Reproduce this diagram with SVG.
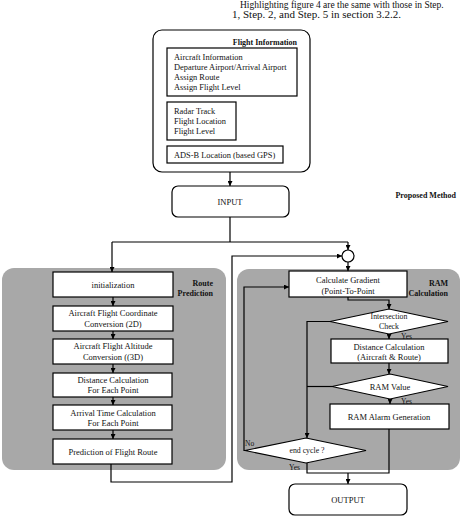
<svg xmlns="http://www.w3.org/2000/svg" width="474" height="530" viewBox="0 0 474 530">
<defs>
<marker id="ah" viewBox="0 0 10 10" refX="10" refY="5" markerWidth="5" markerHeight="5" orient="auto" markerUnits="userSpaceOnUse">
<path d="M0,0 L10,5 L0,10 z" fill="#000"/>
</marker>
<style>
text{font-family:"Liberation Serif","Times New Roman",serif;fill:#111;}
.t{font-size:8.5px;text-anchor:middle;}
.l{font-size:8.4px;}
.b{font-size:8px;font-weight:bold;text-anchor:end;}
.box{fill:#fff;stroke:#000;stroke-width:1.2;}
.panel{fill:#a8a8a8;stroke:none;}
.c{fill:none;stroke:#000;stroke-width:1.2;}
.ca{fill:none;stroke:#000;stroke-width:1.2;marker-end:url(#ah);}
.s{font-size:7.5px;}
.d{font-size:7.8px;text-anchor:middle;}
</style>
</defs>
<rect width="474" height="530" fill="#fff"/>
<text x="240" y="7.5" style="font-size:9.5px">Highlighting figure 4 are the same with those in Step.</text>
<text x="232" y="18" style="font-size:11px">1, Step. 2, and Step. 5 in section 3.2.2.</text>

<rect class="panel" x="2" y="268" width="224" height="202" rx="12"/>
<rect class="panel" x="237" y="269" width="223" height="201" rx="12"/>

<g id="flight-info">
<rect class="box" x="153" y="30" width="157" height="142" rx="9"/>
<text class="b" x="297" y="45">Flight Information</text>
<rect class="box" x="167" y="48" width="130" height="48"/>
<text class="l" x="174" y="60">Aircraft Information</text>
<text class="l" x="174" y="70">Departure Airport/Arrival Airport</text>
<text class="l" x="174" y="80">Assign Route</text>
<text class="l" x="174" y="90">Assign Flight Level</text>
<rect class="box" x="167" y="102" width="69" height="38"/>
<text class="l" x="174" y="114">Radar Track</text>
<text class="l" x="174" y="124">Flight Location</text>
<text class="l" x="174" y="134">Flight Level</text>
<rect class="box" x="167" y="146" width="116" height="17"/>
<text class="l" x="174" y="157.5">ADS-B Location (based GPS)</text>
</g>

<g id="input">
<rect class="box" x="172" y="186" width="117" height="31" rx="6"/>
<text class="t" x="230" y="205">INPUT</text>
</g>
<text class="b" x="456" y="198">Proposed Method</text>

<g id="route-prediction-label">
<text class="b" x="213" y="286">Route</text>
<text class="b" x="213" y="296">Prediction</text>
</g>
<g id="ram-label">
<text class="b" x="448" y="286">RAM</text>
<text class="b" x="448" y="296">Calculation</text>
</g>

<g id="init"><rect class="box" x="53" y="272" width="120" height="25"/><text class="t" x="113" y="288">initialization</text></g>
<g id="coord"><rect class="box" x="53" y="306" width="120" height="25"/><text class="t" x="113" y="316">Aircraft Flight Coordinate</text><text class="t" x="113" y="327">Conversion (2D)</text></g>
<g id="alt"><rect class="box" x="53" y="339" width="120" height="25"/><text class="t" x="113" y="349">Aircraft Flight Altitude</text><text class="t" x="113" y="360">Conversion ((3D)</text></g>
<g id="dist"><rect class="box" x="53" y="373" width="119" height="24"/><text class="t" x="113" y="383">Distance Calculation</text><text class="t" x="113" y="393">For Each Point</text></g>
<g id="arrival"><rect class="box" x="53" y="405" width="119" height="25"/><text class="t" x="113" y="416">Arrival Time Calculation</text><text class="t" x="113" y="426">For Each Point</text></g>
<g id="prediction"><rect class="box" x="53" y="439" width="119" height="25"/><text class="t" x="113" y="455">Prediction of Flight Route</text></g>

<g id="merge"><circle cx="348" cy="256" r="6" fill="#fff" stroke="#000" stroke-width="1.2"/></g>

<g id="gradient"><rect class="box" x="289" y="271" width="118" height="26"/><text class="t" x="348" y="283">Calculate Gradient</text><text class="t" x="348" y="294">(Point-To-Point</text></g>
<g id="intersection"><polygon class="box" points="389,309 448,321.5 389,334 330,321.5"/><text class="d" x="389" y="319">Intersection</text><text class="d" x="389" y="329">Check</text></g>
<g id="distance-ar"><rect class="box" x="331" y="339" width="117" height="24"/><text class="t" x="389" y="350">Distance Calculation</text><text class="t" x="389" y="360">(Aircraft &amp; Route)</text></g>
<g id="ram-value"><polygon class="box" points="390,374 448,386.5 390,399 332,386.5"/><text class="t" x="390" y="389.5">RAM Value</text></g>
<g id="ram-alarm"><rect class="box" x="330" y="404" width="119" height="25"/><text class="t" x="389" y="420">RAM Alarm Generation</text></g>
<g id="end-cycle"><polygon class="box" points="306,438 366,450.5 306,463 245,450.5"/><text class="d" x="307" y="453">end cycle ?</text></g>
<g id="output"><rect class="box" x="289" y="484" width="118" height="31" rx="6"/><text class="t" x="348" y="503">OUTPUT</text></g>

<g id="connectors">
<path class="ca" d="M230,172 V186"/>
<path class="c" d="M230,217 V242 M112,242 H348"/>
<path class="ca" d="M112,242 V272"/>
<path class="ca" d="M348,242 V250"/>
<path class="ca" d="M113,297 V306"/>
<path class="ca" d="M113,331 V339"/>
<path class="ca" d="M113,364 V373"/>
<path class="ca" d="M113,397 V405"/>
<path class="ca" d="M113,430 V439"/>
<path class="ca" d="M111,464 V482 H232 V256 H342"/>
<path class="ca" d="M348,262 V271"/>
<path class="ca" d="M348,297 V300 H389 V309"/>
<path class="ca" d="M389,334 V339"/>
<path class="ca" d="M330,321.5 H307 V438"/>
<path class="ca" d="M389,363 V374"/>
<path class="c" d="M332,386.5 H307"/>
<path class="ca" d="M390,399 V404"/>
<path class="c" d="M389,429 V473 H307 V463"/>
<path class="ca" d="M348,473 V484"/>
<path class="ca" d="M245,450.5 H244 V287 H289"/>
</g>
<g id="labels">
<text class="s" x="401" y="339">Yes</text>
<text class="s" x="401" y="404">Yes</text>
<text class="s" x="245" y="446">No</text>
<text class="s" x="289" y="470">Yes</text>
</g>
</svg>
